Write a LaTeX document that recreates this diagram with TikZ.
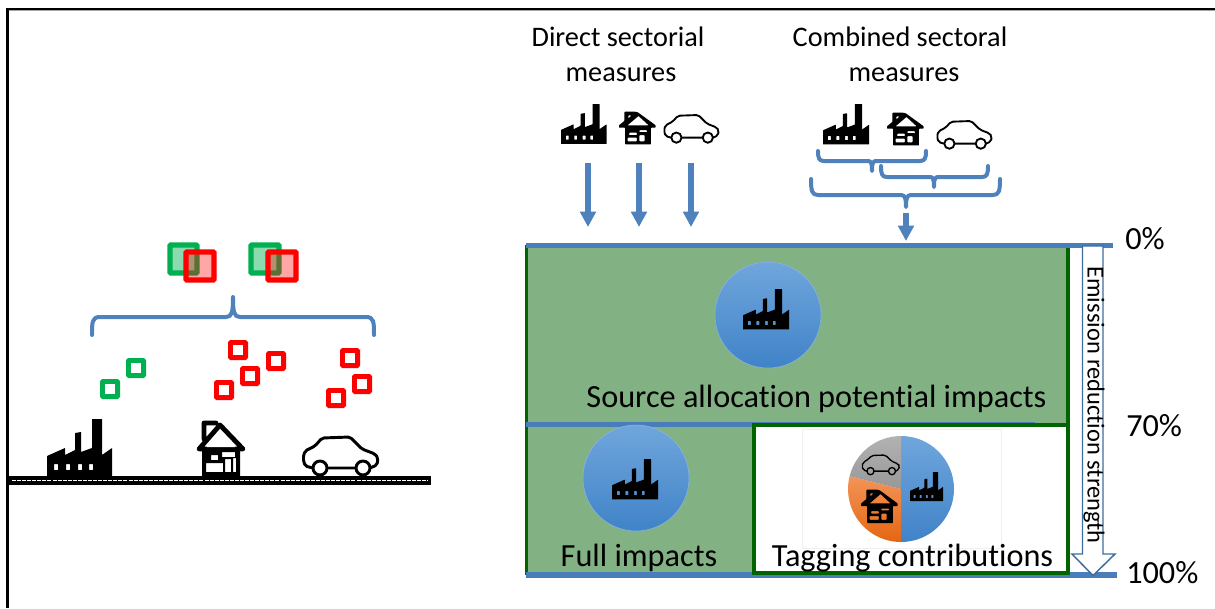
\documentclass[tikz,border=0pt]{standalone}
\usepackage{fontspec}
\setmainfont{Carlito}[Ligatures=NoCommon]
\usetikzlibrary{arrows.meta}
\definecolor{bl}{HTML}{4A7EBB}
\definecolor{blb}{HTML}{4F81BD}
\definecolor{gf}{HTML}{82B284}
\definecolor{dg}{HTML}{006400}
\definecolor{sg}{HTML}{00B050}
\definecolor{bltop}{RGB}{112,166,220}
\definecolor{blbot}{RGB}{64,131,200}
\definecolor{ortop}{RGB}{243,148,88}
\definecolor{orbot}{RGB}{228,102,18}
\definecolor{grtop}{RGB}{178,178,178}
\definecolor{grbot}{RGB}{152,152,152}
\definecolor{edgeb}{RGB}{140,180,225}
\tikzset{
  x=0.75pt,y=-0.75pt,
  pics/factory/.style={code={
    \fill[black,even odd rule,rounded corners=0.3pt]
      (0,57)--(0,37)--(18,29)--(18,36)--(28,31)--(28,14)--(34,13)--(34,33)--(45,29)--(45,0)--(55,0)--(55,36)--(65,29)--(65,57)--cycle
      (7,45) rectangle (11,51) (19,45) rectangle (23,51) (31,45) rectangle (35,51) (42,45) rectangle (46,51);
  }},
  pics/house/.style={code={
    \fill[black,even odd rule]
      (5,25) rectangle (43,54)
      (9,41) rectangle (26,50)
      (14,33) rectangle (21,38)
      (28,37) rectangle (34,50)
      (25,30) rectangle (38,35)
      (36,36) rectangle (39,50);
    \draw[black,line width=#1,line join=round,line cap=round]
      (2,27)--(23,3)--(46,27)--cycle (7,17)--(7,1)--(19,1);
    \fill[white] (9.5,25) -- (23,8) -- (38,25) -- cycle;
  }},
  pics/house/.default=3pt,
  pics/tinyhouse/.style={code={
    \fill[black,even odd rule,rounded corners=0.5pt]
      (0,23)--(7,16)--(7,1)--(20,1)--(24,2)--(47,23)--(47,27)--(41,27)--(41,54)--(8,54)--(8,27)--(0,27)--cycle
      (25,8)--(11,23)--(38,23)--cycle
      (12,7)--(16,7)--(12,12)--cycle
      (13,35) rectangle (23,39)
      (11,43) rectangle (23,49)
      (26,39) rectangle (33,49)
      (26,31) rectangle (36,34);
  }},
  pics/car/.style={code={
    \draw[black,line width=#1,line join=round,rounded corners=1.5pt]
      (10,31)--(2,29)--(0,21)--(2,14)--(12,9)--(19,1)--(47,0)--(59,12)--(72,17)--(75,21)--(74,28)--(67,31)
      (24,31)--(53,31);
    \draw[black,line width=#1] (17,31) circle[radius=7] (60,31) circle[radius=7];
  }},
  pics/car/.default=1.5pt,
  bigtext/.style={font=\fontsize{24.2pt}{26pt}\selectfont,text=black,inner sep=0pt},
  smalltext/.style={font=\fontsize{21.2pt}{26pt}\selectfont,text=black,inner sep=0pt,align=center},
  brace/.style={draw=blb,line width=3pt,line cap=round,line join=round},
  bluearrow/.style={draw=blb,line width=4.2pt,-{Triangle[length=11.5pt,width=11.5pt]}},
  sq/.style={line width=3.6pt,rounded corners=0.6pt},
  topsq/.style={line width=4pt,rounded corners=0.6pt},
  sepline/.style={draw=bl,line width=4pt},
  frameline/.style={draw=dg,line width=2.4pt},
  bluedisc/.style={top color=bltop,bottom color=blbot}
}
\newcommand{\smallsq}[3]{\draw[#3,sq] (#1-7.6,#2-7.6) rectangle (#1+7.6,#2+7.6);}
\begin{document}
\begin{tikzpicture}
\useasboundingbox (0,0) rectangle (1215,608);
\fill[white] (0,0) rectangle (1215,608);
% frame
\draw[black!35,line width=0.8pt] (8,10.7)--(1215,10.7);
\draw[black,line width=2pt] (7.5,608)--(7.5,9)--(1215,9);
% ground
\draw[black,line width=7pt] (9,480.5)--(431,480.5);
\draw[white,line width=0.5pt,dash pattern=on 3pt off 0.8pt] (12,480.5)--(428,480.5);
% left icons
\pic at (47,419) {factory};
\pic at (197,422) {house=3.6pt};
\pic at (303,437) {car=2.2pt};
% small squares
\smallsq{136}{368}{sg}
\smallsq{110}{389}{sg}
\smallsq{238}{350}{red}
\smallsq{250}{376}{red}
\smallsq{276}{361}{red}
\smallsq{224}{390}{red}
\smallsq{350}{358}{red}
\smallsq{362}{384}{red}
\smallsq{336}{398}{red}
% top squares
\draw[topsq,draw=sg,fill=sg,fill opacity=.45] (170,245) rectangle (197,273);
\draw[topsq,draw=red,fill=red,fill opacity=.35] (186,252) rectangle (214,280);
\draw[topsq,draw=sg,fill=sg,fill opacity=.45] (251,245) rectangle (279,273);
\draw[topsq,draw=red,fill=red,fill opacity=.35] (268,252) rectangle (296,280);
% left brace
\draw[brace] (92,335) .. controls (92,322) and (92,317) .. (100,317) -- (226,317) .. controls (232,317) and (233,312) .. (233,297)
  .. controls (233,312) and (234,317) .. (240,317) -- (366,317) .. controls (374,317) and (374,322) .. (374,335);
% green panels
\fill[gf] (526,245) rectangle (1067,424);
\fill[gf] (526,424) rectangle (753,575);
\fill[white] (753,424) rectangle (1068,573);
\draw[frameline,line width=1.6pt] (526.5,245)--(526.5,575);
\draw[frameline] (1068,248)--(1068,424);
\draw[sepline] (526,245.5)--(1113,245.5);
\draw[sepline] (526,424.5)--(1035,424.5);
\draw[sepline] (526,575)--(1117,575);
\draw[frameline,line width=3pt] (754,425) rectangle (1068,573);
% hollow arrow
\draw[draw=bl!85!black,fill=white,line width=1.1pt,line join=miter]
  (1082.5,246)--(1103,246)--(1103,554)--(1115,554)--(1093,575.5)--(1072,554)--(1082.5,554)--cycle;
\node[font=\fontsize{18.3pt}{20pt}\selectfont,rotate=-90,inner sep=0pt] (strength) at (1094,405) {Emission reduction strength};
% circles
\shade[bluedisc] (768,315) circle[radius=53];
\draw[edgeb,line width=0.4pt] (768,315) circle[radius=53];
\shade[bluedisc] (636,478) circle[radius=53];
\draw[edgeb,line width=0.4pt] (636,478) circle[radius=53];
\pic[scale=.71] at (743,289) {factory};
\pic[scale=.71] at (612,459) {factory};
% pie
\draw[black!6,line width=0.5pt] (802,429) rectangle (1001,548);
\shade[bluedisc] (901,489) -- ++(0,-53) arc[start angle=-90,end angle=90,radius=53] -- cycle;
\shade[top color=ortop,bottom color=orbot] (901,489) -- ++(0,53) arc[start angle=90,end angle=194,radius=53] -- cycle;
\shade[top color=grtop,bottom color=grbot] (901,489) -- ++(-51.4,-12.8) arc[start angle=194,end angle=270,radius=53] -- cycle;
\pic[scale=.51] at (910,472) {factory};
\pic[xscale=.78,yscale=.63] at (861,489) {tinyhouse};
\pic[xscale=.5,yscale=.52] at (862,455) {car=1pt};
% top icons
\pic[scale=.70] at (561,104) {factory};
\pic[xscale=.78,yscale=.62] at (619,111) {tinyhouse};
\pic[scale=.73] at (664,115) {car=1.4pt};
\pic[scale=.71] at (823,104) {factory};
\pic[xscale=.78,yscale=.62] at (887,112) {tinyhouse};
\pic[scale=.73] at (937,121) {car=1.4pt};
% arrows
\coordinate (a1s) at (588,163); \coordinate (a1e) at (588,227);
\coordinate (a2s) at (639,163); \coordinate (a2e) at (639,227);
\coordinate (a3s) at (691,163); \coordinate (a3e) at (691,227);
\coordinate (a4s) at (906,213); \coordinate (a4e) at (906,241);
\draw[bluearrow] (a1s)--(a1e);
\draw[bluearrow] (a2s)--(a2e);
\draw[bluearrow] (a3s)--(a3e);
\draw[bluearrow] (a4s)--(a4e);
% combined braces
\draw[brace] (818,151) .. controls (818,158) and (819,161) .. (824,161) -- (868,161) .. controls (871,161) and (872,163) .. (872,171)
  .. controls (872,163) and (873,161) .. (876,161) -- (920,161) .. controls (925,161) and (926,158) .. (926,151);
\draw[brace] (881,166) .. controls (881,174) and (882,177) .. (887,177) -- (930,177) .. controls (933,177) and (934,179) .. (934,187)
  .. controls (934,179) and (935,177) .. (938,177) -- (982,177) .. controls (987,177) and (988,174) .. (988,166);
\draw[brace] (811,179) .. controls (811,191) and (812,195) .. (818,195) -- (901,195) .. controls (905,195) and (906,198) .. (906,207)
  .. controls (906,198) and (907,195) .. (911,195) -- (993,195) .. controls (999,195) and (1000,191) .. (1000,179);
% texts
\node[smalltext] (direct) at (618,54) {Direct sectorial\\\hspace*{4.5pt}measures};
\node[smalltext] (combined) at (900,54) {Combined sectoral\\\hspace*{6pt}measures};
\node[bigtext] (source) at (816.5,399) {Source allocation potential impacts};
\node[bigtext] (full) at (639,558) {Full impacts};
\node[bigtext] (tag) at (912.5,558) {Tagging contributions};
\node[bigtext,anchor=west] (p0) at (1125,239) {0\%};
\node[bigtext,anchor=west] (p70) at (1126,426) {70\%};
\node[bigtext,anchor=west] (p100) at (1126,573) {100\%};
\end{tikzpicture}
\end{document}
